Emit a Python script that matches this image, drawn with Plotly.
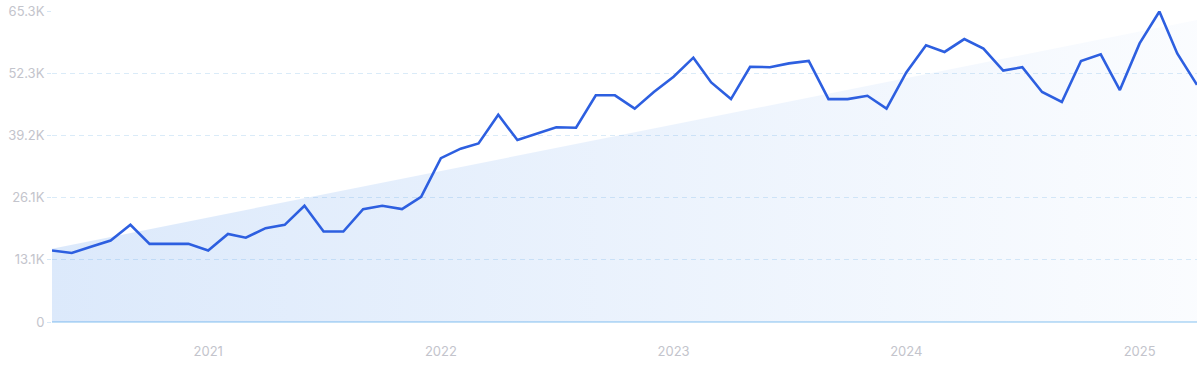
import plotly.graph_objects as go
import pandas as pd

# Monthly data, May 2020 - Apr 2025
dates = pd.date_range("2020-05-01", "2025-04-01", freq="MS")
values = [
    15000, 14500, 15800, 17100, 20400, 16400, 16400, 16400, 15000, 18500,
    17700, 19700, 20400, 24400, 19000, 19000, 23700, 24400, 23700, 26300,
    34400, 36400, 37500, 43500, 38200, 39600, 40900, 40800, 47600, 47600,
    44800, 48300, 51500, 55500, 50300, 46800, 53600, 53500, 54300, 54800,
    46800, 46800, 47500, 44800, 52400, 58100, 56700, 59400, 57400, 52800,
    53500, 48300, 46200, 54800, 56200, 48700, 58500, 65200, 56400, 49800,
]
# Trend line end points
trend_dates = [dates[0], dates[-1]]
trend_values = [15400, 63400]

y_ticks = [0, 13060, 26120, 39180, 52240, 65300]
y_tick_labels = ["0", "13.1K", "26.1K", "39.2K", "52.3K", "65.3K"]
x_ticks = ["2021-01-01", "2022-01-01", "2023-01-01", "2024-01-01", "2025-01-01"]
x_tick_labels = ["2021", "2022", "2023", "2024", "2025"]

fig = go.Figure()
fig.add_trace(go.Scatter(
    x=trend_dates, y=trend_values, mode="lines",
    line=dict(width=0, color="rgba(0,0,0,0)"),
    fill="tozeroy",
    fillgradient=dict(type="horizontal",
                      colorscale=[[0, "rgba(70,140,235,0.19)"],
                                  [0.5, "rgba(70,140,235,0.11)"],
                                  [1, "rgba(70,140,235,0.025)"]]),
    hoverinfo="skip", showlegend=False,
))
fig.add_trace(go.Scatter(
    x=dates, y=values, mode="lines",
    line=dict(color="#2d5fe0", width=2.6),
    showlegend=False,
))

fig.update_layout(
    width=1200, height=371,
    margin=dict(l=52, r=3, t=9, b=49),
    paper_bgcolor="white", plot_bgcolor="white",
    font=dict(family="Inter, Roboto, sans-serif", size=13, color="#c3c4cc"),
)
fig.update_xaxes(
    range=[dates[0], dates[-1]],
    tickvals=x_ticks, ticktext=x_tick_labels,
    showgrid=False, zeroline=False, showline=False,
    ticks="", ticklabelstandoff=20,
    tickfont=dict(size=13, color="#c3c4cc"),
)
fig.update_yaxes(
    range=[0, 65300],
    tickvals=y_ticks, ticktext=y_tick_labels,
    showgrid=True, gridcolor="#daebf8", griddash="5px,4px", gridwidth=1,
    zeroline=True, zerolinecolor="#c2e0f7", zerolinewidth=1.5,
    showline=False,
    ticks="outside", ticklen=4, tickcolor="#d6e8f7",
    tickfont=dict(size=13, color="#c3c4cc"),
)

fig.write_html("out.html")
